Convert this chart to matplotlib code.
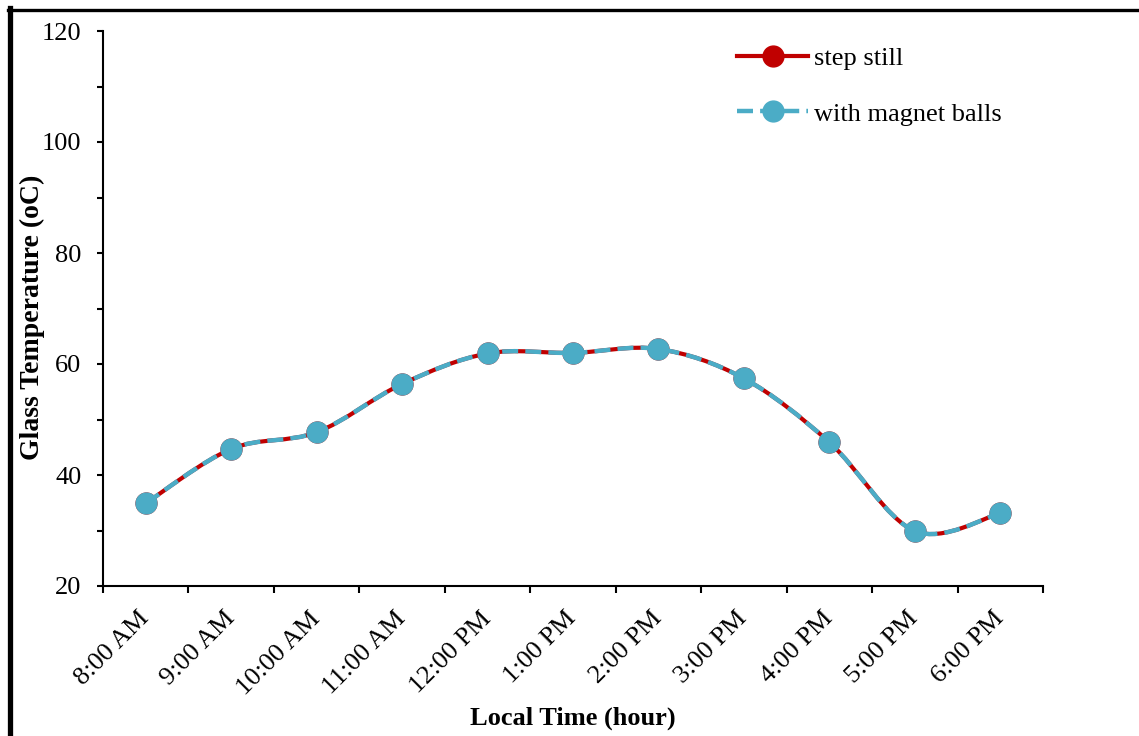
import matplotlib
matplotlib.use("Agg")
import matplotlib.pyplot as plt
import numpy as np
from matplotlib.path import Path
from matplotlib.patches import PathPatch
from matplotlib.lines import Line2D
from matplotlib.ticker import MultipleLocator, FixedLocator, NullFormatter

plt.rcParams['font.family'] = ['Liberation Serif', 'DejaVu Serif']

times = ["8:00 AM", "9:00 AM", "10:00 AM", "11:00 AM", "12:00 PM", "1:00 PM",
         "2:00 PM", "3:00 PM", "4:00 PM", "5:00 PM", "6:00 PM"]
step_still = [34.9, 44.7, 47.7, 56.4, 61.9, 62.0, 62.7, 57.4, 45.9, 29.9, 33.1]
magnet_balls = [34.9, 44.7, 47.7, 56.4, 61.9, 62.0, 62.7, 57.4, 45.9, 29.9, 33.1]

RED = "#C00000"
BLUE = "#4BACC6"
FS = 19


def smooth_path(xs, ys):
    pts = np.column_stack([xs, ys]).astype(float)
    n = len(pts)
    verts = [pts[0]]
    codes = [Path.MOVETO]
    for i in range(n - 1):
        p0 = pts[i - 1] if i > 0 else pts[i]
        p1 = pts[i]
        p2 = pts[i + 1]
        p3 = pts[i + 2] if i + 2 < n else pts[i + 1]
        c1 = p1 + (p2 - p0) / 6.0
        c2 = p2 - (p3 - p1) / 6.0
        verts += [c1, c2, p2]
        codes += [Path.CURVE4] * 3
    return Path(verts, codes)


fig = plt.figure(figsize=(11.39, 7.36), dpi=100)
ax = fig.add_axes([103 / 1139, 1 - 586 / 736, (1043 - 103) / 1139, (586 - 31) / 736])

x = np.arange(1, len(times) + 1)

red_patch = PathPatch(smooth_path(x, step_still), facecolor='none', edgecolor=RED,
                      lw=3, zorder=2)
ax.add_patch(red_patch)
ax.plot(x, step_still, 'o', color=RED, markersize=15, zorder=3)

blue_patch = PathPatch(smooth_path(x, magnet_balls), facecolor='none', edgecolor=BLUE,
                       lw=3.2, linestyle=(0, (3.6, 1.6)), capstyle='butt', zorder=4)
ax.add_patch(blue_patch)
ax.plot(x, magnet_balls, 'o', color=BLUE, markersize=15, zorder=5)

ax.set_xlim(0.5, len(times) + 0.5)
ax.set_ylim(20, 120)

ax.yaxis.set_major_locator(MultipleLocator(20))
ax.yaxis.set_minor_locator(MultipleLocator(10))
ax.tick_params(axis='y', which='major', direction='out', length=4.5, width=1.5,
               labelsize=FS, pad=11)
ax.tick_params(axis='y', which='minor', direction='out', length=4.5, width=1.5)

ax.set_xticks(x)
ax.set_xticklabels(times, rotation=45, ha='right', va='center',
                   rotation_mode='anchor', fontsize=FS)
ax.xaxis.set_minor_locator(FixedLocator(np.arange(0.5, len(times) + 1, 1.0)))
ax.xaxis.set_minor_formatter(NullFormatter())
ax.tick_params(axis='x', which='major', length=0, pad=21)
ax.tick_params(axis='x', which='minor', direction='out', length=5, width=1.5)

for s in ['top', 'right']:
    ax.spines[s].set_visible(False)
for s in ['left', 'bottom']:
    ax.spines[s].set_linewidth(1.5)

ax.set_xlabel("Local Time (hour)", fontsize=FS, fontweight='bold', va='top')
ax.xaxis.set_label_coords(0.5, -0.218)
ax.set_ylabel("Glass Temperature (oC)", fontsize=20, fontweight='bold')
ax.yaxis.set_label_coords(-0.062, 0.485)

handles = [
    Line2D([], [], color=RED, lw=3, marker='o', markersize=15),
    Line2D([], [], color=BLUE, lw=3.2, linestyle=(0, (3.6, 1.6)), marker='o',
           markersize=15, dash_capstyle='butt'),
]
leg = ax.legend(handles, ["step still", "with magnet balls"], frameon=False,
                fontsize=FS, handlelength=2.7, handletextpad=0.2,
                labelspacing=1.2, borderpad=0, borderaxespad=0,
                loc='upper left', bbox_to_anchor=(737 / 1139, 1 - 47 / 736),
                bbox_transform=fig.transFigure)

fig.add_artist(Line2D([10 / 1139, 10 / 1139], [0, 1 - 8 / 736], color='black',
                      lw=3.8, transform=fig.transFigure, solid_capstyle='projecting'))
fig.add_artist(Line2D([8 / 1139, 1], [1 - 9.5 / 736, 1 - 9.5 / 736], color='black',
                      lw=2.4, transform=fig.transFigure))

fig.savefig("out.png", dpi=100, facecolor='white')
